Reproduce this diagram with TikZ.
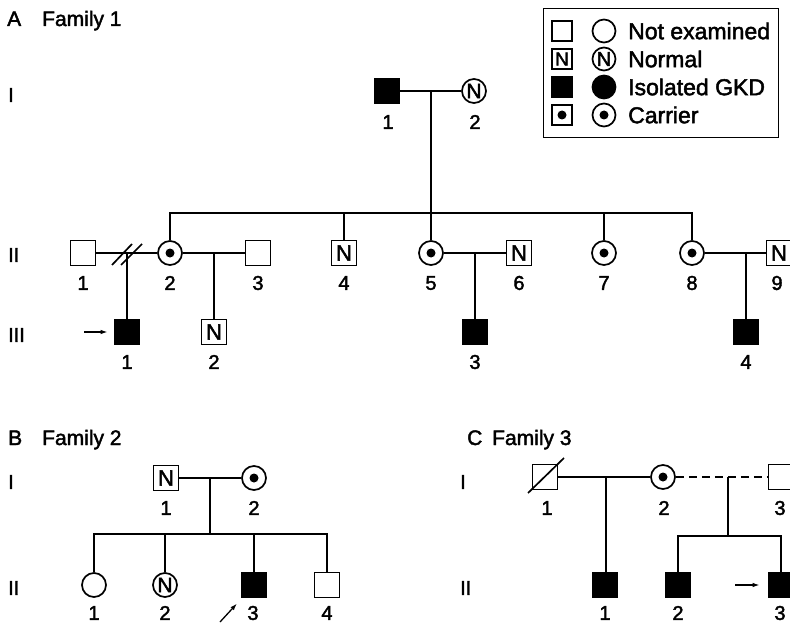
\documentclass[tikz,border=0pt]{standalone}
\usepackage{fontspec}
\setmainfont{Liberation Sans}[FakeBold=2]
\usetikzlibrary{arrows.meta}
\tikzset{
  ln/.style={line width=1.7},
  sym/.style={draw, line width=1.7, inner sep=0, fill=white},
  msq/.style={sym, rectangle, minimum size=25, font=\fontsize{22}{22}\selectfont},
  fsq/.style={msq, fill=black},
  fci/.style={sym, circle, minimum size=24, font=\fontsize{21}{21}\selectfont},
  lsq/.style={sym, rectangle, minimum size=20, font=\fontsize{19}{19}\selectfont},
  lci/.style={sym, circle, minimum size=23, font=\fontsize{20}{20}\selectfont},
  aff/.style={fill=black},
  carr/.style={path picture={\fill[black] (path picture bounding box.center) circle (4.5);}},
  num/.style={font=\fontsize{20}{20}\selectfont, inner sep=0},
  gen/.style={font=\fontsize{20}{20}\selectfont, inner sep=0, anchor=west},
  ttl/.style={font=\fontsize{21}{21}\selectfont, inner sep=0, anchor=base west},
  legtxt/.style={font=\fontsize{23}{23}\selectfont, inner sep=0, anchor=west},
  pro/.style={-{Latex[length=7,width=4.5]}, line width=1.3},
}
\begin{document}
\begin{tikzpicture}[x=1pt,y=-1pt]
\useasboundingbox (0,0) rectangle (790,623);
\clip (0,0) rectangle (790,623);

% ---------- Titles and generation labels ----------
\node[ttl] (tA) at (7,26) {A};
\node[ttl] (tAf) at (42,26) {Family 1};
\node[ttl] (tB) at (8,445) {B};
\node[ttl] (tBf) at (42,445) {Family 2};
\node[ttl] (tC) at (467,445) {C};
\node[ttl] (tCf) at (492,445) {Family 3};

\node[gen] (gAI) at (8,95) {I};
\node[gen] (gAII) at (8,255) {II};
\node[gen] (gAIII) at (8,335) {III};
\node[gen] (gBI) at (8,482) {I};
\node[gen] (gBII) at (8,588) {II};
\node[gen] (gCI) at (460,482) {I};
\node[gen] (gCII) at (460,588) {II};

% ---------- Legend ----------
\node[draw, line width=1.4, minimum width=235, minimum height=129, anchor=north west, inner sep=0] (leg) at (543,8) {};
\node[lsq] (L1s) at (562,31) {};
\node[lci] (L1c) at (604,31) {};
\node[legtxt] (L1t) at (628,31) {Not examined};
\node[lsq] (L2s) at (562,59) {N};
\node[lci] (L2c) at (604,59) {N};
\node[legtxt] (L2t) at (628,59) {Normal};
\node[lsq, aff] (L3s) at (562,87) {};
\node[lci, aff] (L3c) at (604,87) {};
\node[legtxt] (L3t) at (628,87) {Isolated GKD};
\node[lsq, carr] (L4s) at (562,115) {};
\node[lci, carr] (L4c) at (604,115) {};
\node[legtxt] (L4t) at (628,115) {Carrier};

% ---------- Family 1 ----------
\node[fsq] (AI1) at (387,91) {};
\node[fci] (AI2) at (474,91) {N};
\node[num] (lAI1) at (388,122) {1};
\node[num] (lAI2) at (475,122) {2};
\draw[ln] (AI1) -- (AI2);

\node[msq] (AII1) at (83,253) {};
\node[fci, carr] (AII2) at (170,253) {};
\node[msq] (AII3) at (258,253) {};
\node[msq] (AII4) at (344,253) {N};
\node[fci, carr] (AII5) at (431,253) {};
\node[msq] (AII6) at (519,253) {N};
\node[fci, carr] (AII7) at (604,253) {};
\node[fci, carr] (AII8) at (692,253) {};
\node[msq] (AII9) at (779,253) {N};
\foreach \n/\x/\t in {1/83/1,2/170/2,3/258/3,4/344/4,5/431/5,6/519/6,7/604/7,8/692/8,9/777/9}
  \node[num] (lAII\n) at (\x,283) {\t};

\coordinate (AcI) at (431,91);
\coordinate (AsL) at (170,213);
\draw[ln] (AcI) -- (AcI |- AsL);
\draw[ln] (AII2) -- (AII2 |- AsL) -| (AII8);
\draw[ln] (AII4) -- (AII4 |- AsL);
\draw[ln] (AII5) -- (AII5 |- AsL);
\draw[ln] (AII7) -- (AII7 |- AsL);

\node[fsq] (AIII1) at (127,332) {};
\node[msq] (AIII2) at (214,332) {N};
\node[fsq] (AIII3) at (475,332) {};
\node[fsq] (AIII4) at (746,332) {};
\foreach \n/\x in {1/127,2/214,3/475,4/746}
  \node[num] (lAIII\n) at (\x,362) {\n};

\draw[ln] (AII1) -- (AII2);
\draw[ln] (AII2) -- (AII3);
\draw[ln] (AII5) -- (AII6);
\draw[ln] (AII8) -- (AII9);
\coordinate (AcA) at (127,253);
\coordinate (AcB) at (214,253);
\coordinate (AcC) at (475,253);
\coordinate (AcD) at (746,253);
\draw[ln] (AcA) -- (AIII1);
\draw[ln] (AcB) -- (AIII2);
\draw[ln] (AcC) -- (AIII3);
\draw[ln] (AcD) -- (AIII4);
% separation marks
\draw[ln] (112,265) -- (132,244);
\draw[ln] (121,265) -- (142,244);
\coordinate (arA) at (84,332);
\draw[pro, shorten >=6] (arA) -- (AIII1);

% ---------- Family 2 ----------
\node[msq] (BI1) at (166,478) {N};
\node[fci, carr] (BI2) at (254,478) {};
\node[num] (lBI1) at (166,508) {1};
\node[num] (lBI2) at (254,508) {2};
\draw[ln] (BI1) -- (BI2);
\coordinate (BcA) at (210,478);
\coordinate (BsL) at (94,534);
\draw[ln] (BcA) -- (BcA |- BsL);

\node[fci] (BII1) at (94,585) {};
\node[fci] (BII2) at (165,585) {N};
\node[fsq] (BII3) at (254,585) {};
\node[msq] (BII4) at (327,585) {};
\foreach \n/\x in {1/94,2/165,3/253,4/327}
  \node[num] (lBII\n) at (\x,613) {\n};
\draw[ln] (BII1) -- (BII1 |- BsL) -| (BII4);
\draw[ln] (BII2) -- (BII2 |- BsL);
\draw[ln] (BII3) -- (BII3 |- BsL);
\coordinate (arB) at (220,622);
\draw[pro, shorten >=7] (arB) -- (BII3);

% ---------- Family 3 ----------
\node[msq] (CI1) at (545,477) {};
\draw[ln] (528,493) -- (564,458);
\node[fci, carr] (CI2) at (663,477) {};
\node[msq] (CI3) at (781,477) {};
\node[num] (lCI1) at (547,508) {1};
\node[num] (lCI2) at (664,508) {2};
\node[num] (lCI3) at (780,508) {3};
\draw[ln] (CI1) -- (CI2);
\draw[ln, dash pattern=on 8 off 5] (CI2) -- (CI3);

\node[fsq] (CII1) at (605,585) {};
\node[fsq] (CII2) at (678,585) {};
\node[fsq] (CII3) at (781,585) {};
\node[num] (lCII1) at (605,613) {1};
\node[num] (lCII2) at (678,613) {2};
\node[num] (lCII3) at (780,613) {3};

\coordinate (CcA) at (606,477);
\draw[ln] (CcA) -- (CcA |- CII1.north);
\coordinate (CcB) at (728,477);
\coordinate (CsL) at (678,536);
\draw[ln] (CcB) -- (CcB |- CsL);
\draw[ln] (CII2) -- (CII2 |- CsL) -| (CII3);
\coordinate (arC) at (735,585);
\draw[pro, shorten >=8] (arC) -- (CII3);
\end{tikzpicture}
\end{document}
